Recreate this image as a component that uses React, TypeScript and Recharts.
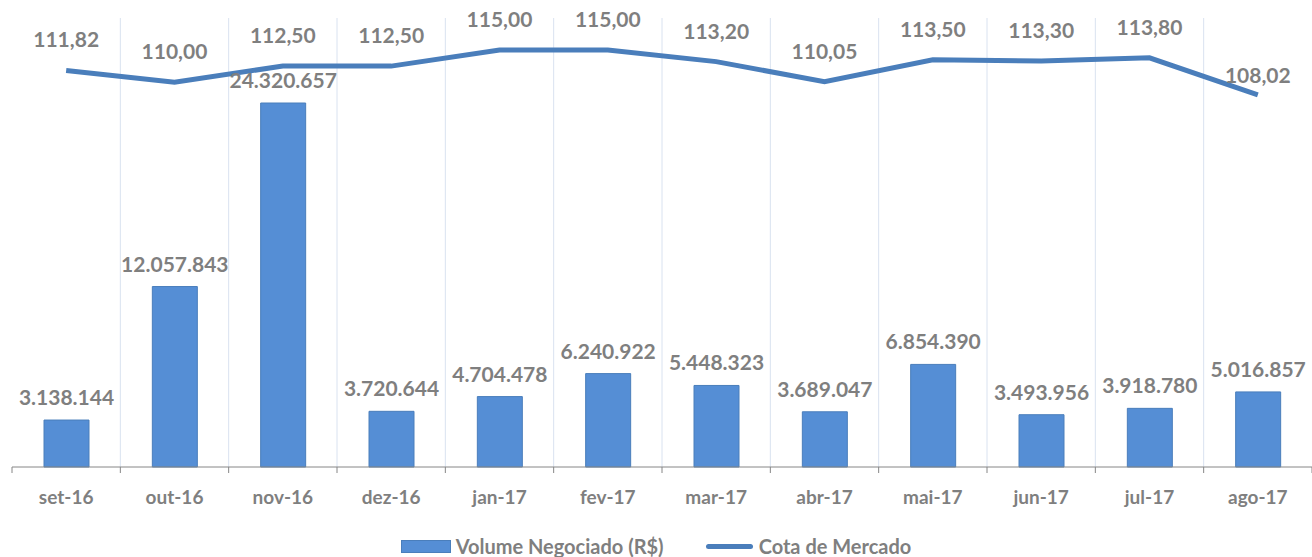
import { Bar, Line, ComposedChart, XAxis, YAxis, CartesianGrid, LabelList } from "recharts";

const months = ["set-16", "out-16", "nov-16", "dez-16", "jan-17", "fev-17", "mar-17", "abr-17", "mai-17", "jun-17", "jul-17", "ago-17"];
const volume = [3138144, 12057843, 24320657, 3720644, 4704478, 6240922, 5448323, 3689047, 6854390, 3493956, 3918780, 5016857];
const cota = [111.82, 110.0, 112.5, 112.5, 115.0, 115.0, 113.2, 110.05, 113.5, 113.3, 113.8, 108.02];

const data = months.map((m, i) => ({ month: m, volume: volume[i], cota: cota[i] }));

const W = 1312;
const H = 557;
// x axis takes 30px below the plot, so the plot bottom sits at 557 - 60 - 30 = 467
const M = { top: 18, right: 0, bottom: 60, left: 12 };
const BAND = (W - M.left - M.right) / months.length;

const FONT = "Lato, 'Open Sans', sans-serif";
const GREY = "#7f7f7f";
const BAR = "#558ed5";
const LINE = "#4a7ebb";

const fmtInt = (v: number) => String(Math.round(v)).replace(/\B(?=(\d{3})+(?!\d))/g, ".");
const fmtDec = (v: number) => v.toFixed(2).replace(".", ",");

function MonthTick(props: any) {
  const { x, y, payload, index } = props;
  const last = index === months.length - 1;
  return (
    <g>
      <line x1={x - BAND / 2} y1={y - 8} x2={x - BAND / 2} y2={y - 2} stroke="#868686" />
      {last && <line x1={x + BAND / 2} y1={y - 8} x2={x + BAND / 2} y2={y - 2} stroke="#868686" />}
      <text x={x} y={y + 29} textAnchor="middle" fill={GREY} fontFamily={FONT} fontWeight={700} fontSize={19}>
        {payload.value}
      </text>
    </g>
  );
}

function CotaLabel(props: any) {
  const { x, y, value, index } = props;
  const off = index === months.length - 1 ? 12 : 23;
  return (
    <text x={x} y={y - off} textAnchor="middle" fill={GREY} fontFamily={FONT} fontWeight={700} fontSize={21}>
      {fmtDec(value)}
    </text>
  );
}

function VolLabel(props: any) {
  const { x, y, width, value } = props;
  return (
    <text x={x + width / 2} y={y - 15} textAnchor="middle" fill={GREY} fontFamily={FONT} fontWeight={700} fontSize={21}>
      {fmtInt(value)}
    </text>
  );
}

export default function App() {
  return (
    <div style={{ position: "absolute", left: 0, top: 0, width: W, height: H, background: "#fff", fontFamily: FONT }}>
      <ComposedChart width={W} height={H} data={data} margin={M}>
        <CartesianGrid
          horizontal={false}
          stroke="#d9e2f0"
          verticalCoordinatesGenerator={({ offset }: any) =>
            months.slice(1).map((_, i) => offset.left + (i + 1) * (offset.width / months.length))
          }
        />
        <XAxis dataKey="month" height={30} tickLine={false} axisLine={{ stroke: "#868686" }} tick={<MonthTick />} interval={0} />
        <YAxis yAxisId="vol" hide domain={[0, 30000000]} />
        <YAxis yAxisId="cota" hide orientation="right" domain={[50, 120]} />
        <Bar yAxisId="vol" dataKey="volume" fill={BAR} stroke="#4a7ebb" strokeWidth={1} barSize={45} isAnimationActive={false}>
          <LabelList dataKey="volume" content={<VolLabel />} />
        </Bar>
        <Line yAxisId="cota" dataKey="cota" type="linear" stroke={LINE} strokeWidth={5} dot={false} isAnimationActive={false}>
          <LabelList dataKey="cota" content={<CotaLabel />} />
        </Line>
      </ComposedChart>
      <div
        style={{
          position: "absolute",
          top: 534,
          left: 0,
          width: W,
          display: "flex",
          justifyContent: "center",
          alignItems: "center",
          color: GREY,
          fontWeight: 700,
          fontSize: 20,
          fontFamily: FONT,
        }}
      >
        <span style={{ display: "inline-block", width: 50, height: 13, background: BAR, border: "1px solid #4a7ebb", boxSizing: "border-box", marginRight: 5 }} />
        <span>Volume Negociado (R$)</span>
        <span style={{ display: "inline-block", width: 47, height: 5, background: LINE, borderRadius: 3, marginLeft: 42, marginRight: 6 }} />
        <span>Cota de Mercado</span>
      </div>
    </div>
  );
}
